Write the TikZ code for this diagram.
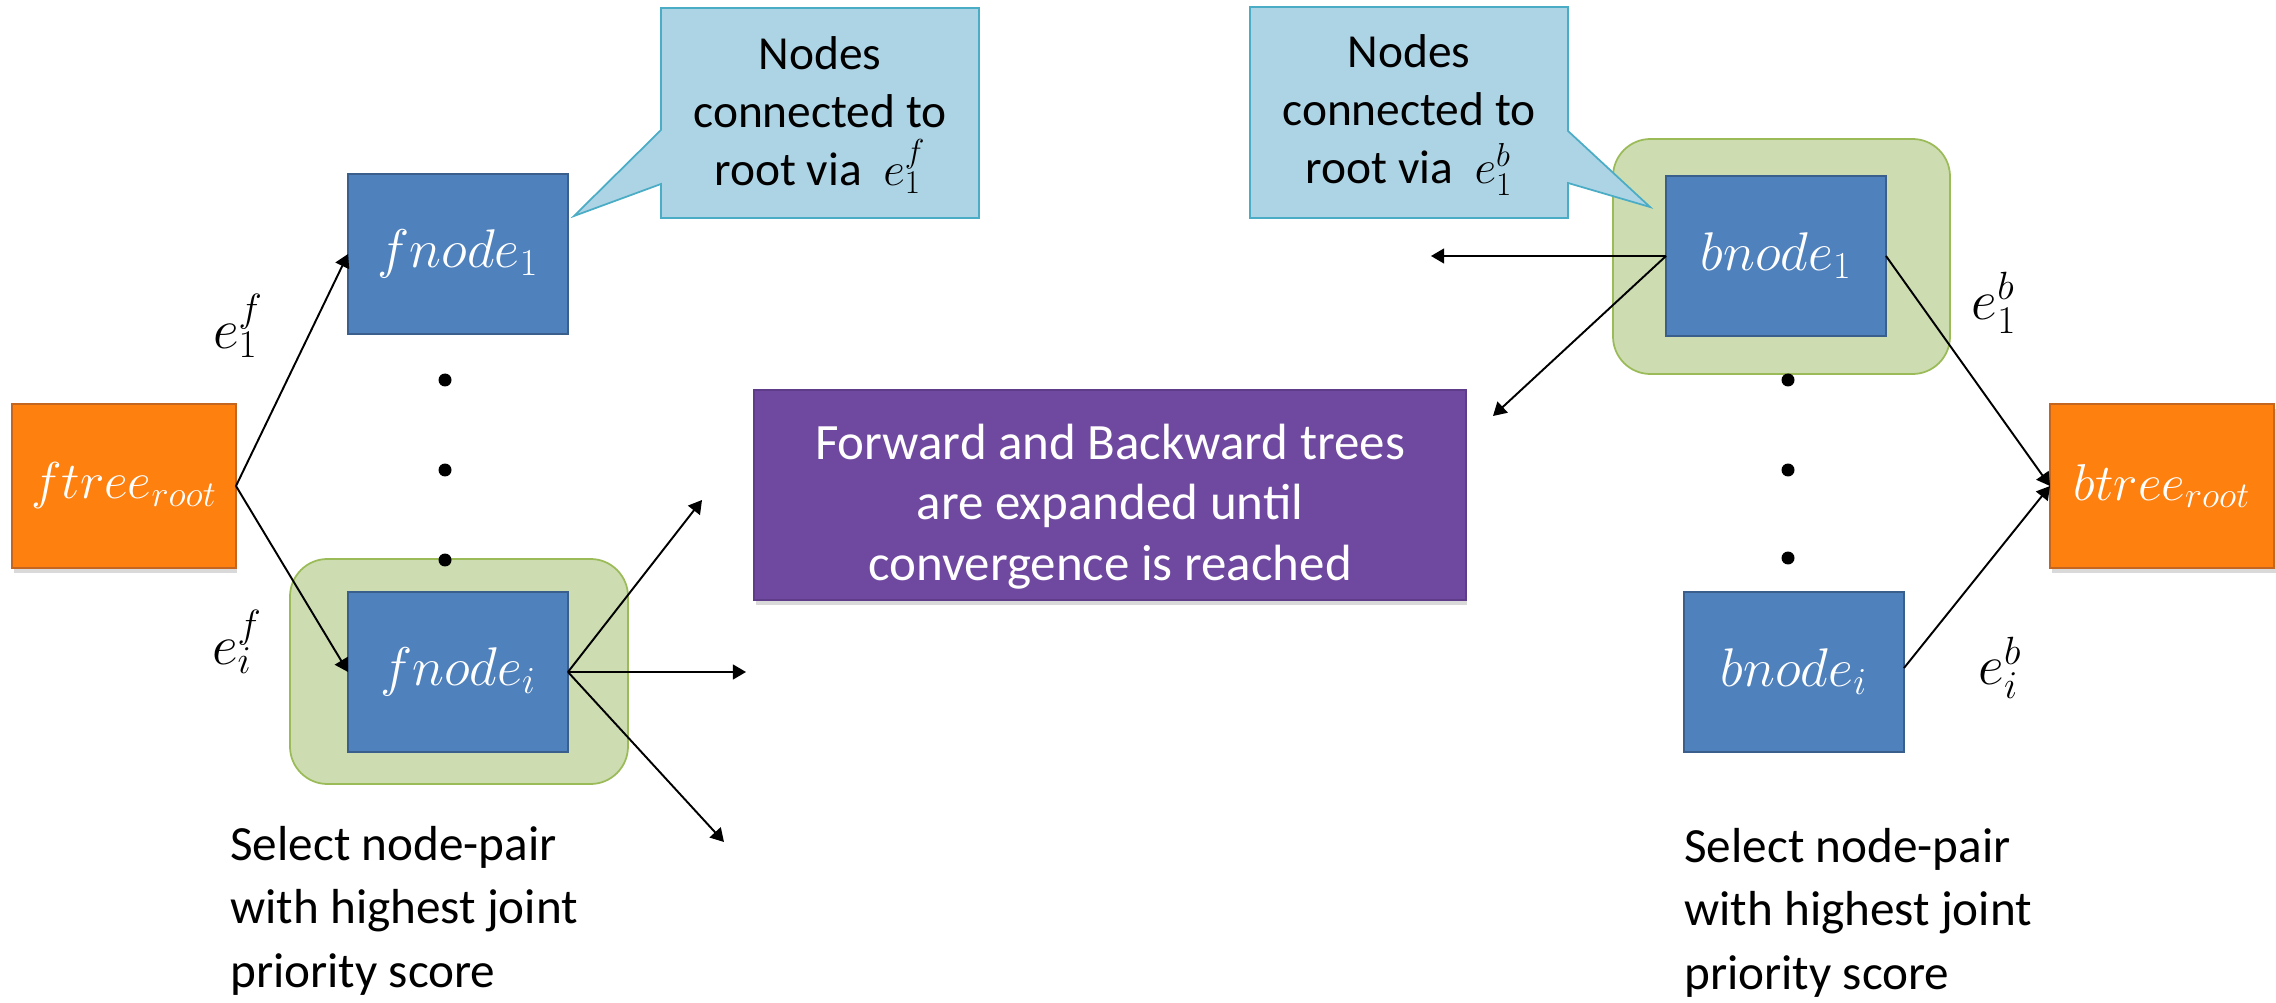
\RequirePackage{fix-cm}
\documentclass[tikz,border=0pt]{standalone}
\usepackage{fontspec}
\setmainfont{Carlito}
\usepackage{xcolor}
\usetikzlibrary{arrows.meta,shadows}
\definecolor{rootorange}{HTML}{FE800F}
\definecolor{rootedge}{HTML}{C4661F}
\definecolor{nodeblue}{HTML}{4F81BD}
\definecolor{nodeedge}{HTML}{3A5F8C}
\definecolor{pairgreen}{HTML}{CDDDB1}
\definecolor{pairedge}{HTML}{9BBB59}
\definecolor{infopurple}{HTML}{6F48A0}
\definecolor{infoedge}{HTML}{5E3C8A}
\definecolor{calloutblue}{HTML}{ADD4E5}
\definecolor{calloutedge}{HTML}{4BACC6}

\begin{document}
\begin{tikzpicture}[x=0.02cm,y=-0.02cm,
    boxshadow/.style={drop shadow={shadow xshift=.03cm,shadow yshift=-.1cm,opacity=.3}},
    root/.style={draw=rootedge,fill=rootorange,line width=1pt,text=white,
        minimum width=4.48cm,minimum height=3.28cm,inner sep=0pt,outer sep=0pt,
        font=\fontsize{29.5}{34}\selectfont,boxshadow},
    treenode/.style={draw=nodeedge,fill=nodeblue,line width=1.2pt,text=white,
        minimum width=4.4cm,minimum height=3.2cm,inner sep=0pt,outer sep=0pt,
        font=\fontsize{31}{34}\selectfont},
    pairbox/.style={draw=pairedge,fill=pairgreen,line width=1pt,rounded corners=0.75cm},
    callout/.style={draw=calloutedge,fill=calloutblue,line width=1pt},
    callouttext/.style={align=center,font=\fontsize{27}{33}\selectfont},
    info/.style={draw=infoedge,fill=infopurple,line width=1pt,text=white,align=center,
        minimum width=14.24cm,minimum height=4.2cm,inner sep=0pt,outer sep=0pt,
        font=\fontsize{29}{34.5}\selectfont,boxshadow},
    note/.style={align=left,inner sep=0pt,font=\fontsize{28}{36}\selectfont},
    elabel/.style={font=\fontsize{32}{34}\selectfont},
    edge/.style={-{Triangle[length=7.5pt,width=8.5pt]},line width=1.1pt}]
    \useasboundingbox (0,0) rectangle (2276,1003);

    % selected node pair
    \draw[pairbox] (290,559) rectangle (628,784);
    \draw[pairbox] (1613,139) rectangle (1950,374);

    % callouts
    \draw[callout] (661,8) -- (979,8) -- (979,218) -- (661,218) -- (661,184)
        -- (574,216) -- (661,130) -- cycle;
    \node[callouttext] (fnote) at (820,115) {Nodes\\connected to\\root via~~$e_1^f$};
    \draw[callout] (1250,7) -- (1568,7) -- (1568,131) -- (1650,207) -- (1568,183)
        -- (1568,218) -- (1250,218) -- cycle;
    \node[callouttext] (bnote) at (1409,115) {Nodes\\connected to\\root via~~$e_1^b$};

    % trees
    \node[root] (froot) at (124,486) {$ftree_{root}$};
    \node[root] (broot) at (2162,486) {$btree_{root}$};
    \node[treenode] (fone) at (458,254) {$fnode_1$};
    \node[treenode] (fi) at (458,672) {$fnode_i$};
    \node[treenode] (bone) at (1776,256) {$bnode_1$};
    \node[treenode] (bi) at (1794,672) {$bnode_i$};
    \node[info] (expand) at (1110,495) {\rule{0pt}{1.16cm}Forward and Backward trees\\are expanded until\\convergence is reached};

    \foreach \y in {380,470,560}
        \fill (445,\y) circle[radius=0.13cm];
    \foreach \y in {380,470,558}
        \fill (1788,\y) circle[radius=0.13cm];

    % edges
    \coordinate (fup) at (702,500);
    \coordinate (fmid) at (746,672);
    \coordinate (fdown) at (724,842);
    \coordinate (bleft) at (1431,256);
    \coordinate (bdown) at (1493,416);
    \begin{scope}[edge]
        \draw (froot.east) -- (fone.west);
        \draw (froot.east) -- (fi.west);
        \draw (fi.east) -- (fup);
        \draw (fi.east) -- (fmid);
        \draw (fi.east) -- (fdown);
        \draw (bone.west) -- (bleft);
        \draw (bone.west) -- (bdown);
        \draw (bone.east) -- (broot.west);
        \draw ([yshift=.08cm]bi.east) -- (broot.west);
    \end{scope}

    \node[elabel] (efone) at (238,326) {$e_1^f$};
    \node[elabel] (efi) at (237,642) {$e_i^f$};
    \node[elabel] (ebone) at (1994,303) {$e_1^b$};
    \node[elabel] (ebi) at (2000,668) {$e_i^b$};

    \node[note,anchor=north west] (fselect) at (230,826) {Select node-pair\\with highest joint\\priority score};
    \node[note,anchor=north west] (bselect) at (1684,828) {Select node-pair\\with highest joint\\priority score};
\end{tikzpicture}
\end{document}
